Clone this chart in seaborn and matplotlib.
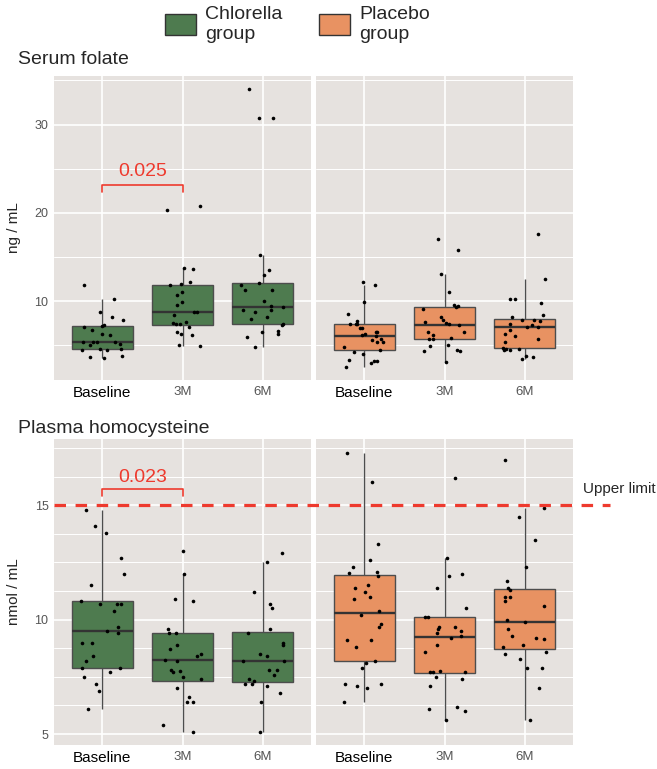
import numpy as np
import pandas as pd
import matplotlib
matplotlib.use("Agg")
import matplotlib.pyplot as plt
import matplotlib.transforms as mtransforms
from matplotlib.lines import Line2D
from matplotlib.patches import Patch
import seaborn as sns

# categories
times = ["Baseline", "3M", "6M"]

# serum folate (ng/mL)
folate_chl_base = [11.8, 10.2, 8.8, 8.2, 7.9, 7.3, 7.2, 7.1, 6.7, 6.3, 6.2, 5.35, 5.4, 5.35,
                   5.3, 5.1, 5.0, 4.6, 4.55, 4.5, 4.4, 3.8, 3.6, 3.5]
folate_chl_3m = [20.8, 20.3, 13.75, 13.6, 12.1, 11.9, 11.8, 11.0, 10.7, 9.9, 9.5, 8.8, 8.75,
                 8.4, 7.6, 7.55, 7.45, 7.4, 7.0, 6.5, 6.3, 6.15, 5.0, 4.9]
folate_chl_6m = [34.0, 30.7, 30.7, 15.2, 13.5, 13.0, 12.0, 11.8, 11.25, 11.2, 10.0, 9.4, 9.35,
                 9.0, 9.0, 8.7, 8.2, 8.0, 7.35, 7.3, 6.65, 6.5, 6.3, 5.95, 4.75]
folate_pla_base = [12.1, 11.85, 9.9, 8.5, 7.7, 7.45, 7.4, 7.4, 6.9, 6.9, 6.5, 6.45, 6.3, 6.15,
                   6.0, 5.75, 5.55, 5.4, 5.3, 4.8, 4.45, 4.25, 4.0, 3.2, 3.2, 3.3, 3.0, 2.55]
folate_pla_3m = [17.0, 15.8, 13.05, 11.0, 9.55, 9.4, 9.35, 9.05, 8.2, 7.8, 7.6, 7.5, 7.35,
                 7.3, 6.5, 6.5, 6.1, 5.85, 5.75, 5.7, 5.0, 4.9, 4.5, 4.3, 4.3, 3.1]
folate_pla_6m = [17.6, 12.5, 10.25, 10.2, 9.75, 8.4, 8.2, 7.8, 7.8, 7.7, 7.4, 7.3, 7.1, 7.0,
                 6.7, 6.25, 6.0, 5.75, 5.4, 4.65, 4.55, 4.6, 4.5, 4.4, 3.75, 3.6, 3.45]

# plasma homocysteine (nmol/mL)
hcy_chl_base = [14.8, 14.1, 13.8, 12.7, 12.0, 11.5, 10.8, 10.7, 10.7, 10.7, 10.4, 9.7, 9.5,
                9.4, 9.0, 9.0, 8.4, 8.2, 7.9, 7.9, 7.7, 7.5, 7.2, 6.9, 6.1]
hcy_chl_3m = [13.0, 12.0, 10.9, 10.8, 9.6, 9.4, 9.4, 8.9, 8.7, 8.5, 8.4, 8.25, 8.2, 7.8,
              7.75, 7.7, 7.5, 7.4, 7.0, 6.6, 6.4, 6.4, 5.4, 5.1]
hcy_chl_6m = [12.9, 12.5, 11.2, 10.7, 10.5, 9.6, 9.4, 9.0, 8.9, 8.5, 8.4, 8.2, 8.2, 7.8,
              7.8, 7.6, 7.4, 7.3, 7.2, 7.1, 7.2, 6.8, 6.4, 5.1]
hcy_pla_base = [17.3, 16.0, 13.3, 12.6, 12.3, 12.1, 12.05, 11.9, 11.5, 11.4, 11.2, 11.0, 10.9,
                10.4, 10.2, 9.8, 9.7, 9.1, 9.1, 8.8, 8.2, 8.1, 7.9, 7.2, 7.2, 7.0, 7.1, 6.4]
hcy_pla_3m = [16.2, 12.7, 12.0, 11.9, 11.4, 10.5, 10.1, 10.1, 9.7, 9.7, 9.6, 9.5, 9.4, 9.3,
              9.2, 8.9, 8.6, 7.7, 7.7, 7.75, 7.7, 7.5, 7.4, 7.1, 6.2, 6.1, 6.0, 5.6]
hcy_pla_6m = [17.0, 14.9, 14.5, 13.5, 12.3, 11.7, 11.4, 11.3, 11.0, 11.0, 10.8, 10.6, 10.0,
              9.9, 9.6, 9.3, 9.2, 9.15, 8.9, 8.8, 8.6, 8.5, 8.3, 7.9, 7.9, 7.0, 5.6]

GREEN = "#4e7b4f"
ORANGE = "#e89262"
BG = "#e6e2df"
RED = "#ee3a2e"
GREY_TXT = "#555555"

sns.set_theme(style="white")
plt.rcParams["font.family"] = ["Liberation Sans", "DejaVu Sans"]
np.random.seed(7)


def long_form(base, m3, m6):
    return pd.DataFrame({
        "time": ["Baseline"] * len(base) + ["3M"] * len(m3) + ["6M"] * len(m6),
        "value": base + m3 + m6,
    })


def draw_panel(ax, df, color, ylim, major, minor, show_y):
    ax.set_facecolor(BG)
    ax.set_axisbelow(True)
    sns.boxplot(data=df, x="time", y="value", order=times, color=color, saturation=1,
                width=0.76, showfliers=False, showcaps=False, linecolor="#4d4d4d",
                linewidth=1.0, medianprops={"color": "#333333", "linewidth": 1.7}, ax=ax)
    sns.stripplot(data=df, x="time", y="value", order=times, color="black", size=2.6,
                  jitter=0.27, ax=ax)
    ax.set_xlim(-0.6, 2.6)
    ax.set_ylim(*ylim)
    ax.set_yticks(major)
    ax.set_yticks(minor, minor=True)
    ax.grid(which="major", axis="y", color="white", lw=1.2)
    ax.grid(which="minor", axis="y", color="white", lw=0.7)
    ax.grid(which="major", axis="x", color="white", lw=1.2)
    for s in ax.spines.values():
        s.set_visible(False)
    ax.tick_params(axis="both", which="both", length=0, pad=4)
    ax.tick_params(axis="y", labelsize=9, labelcolor=GREY_TXT)
    ax.set_xlabel("")
    ax.set_ylabel("")
    ax.set_xticks(range(3))
    ax.set_xticklabels(times)
    for lab in ax.get_xticklabels():
        if lab.get_text() == "Baseline":
            lab.set_fontsize(11)
            lab.set_color("black")
        else:
            lab.set_fontsize(9.5)
            lab.set_color(GREY_TXT)
    if not show_y:
        ax.set_yticklabels([])


def bracket(ax, x0, x1, y_low, y_top, label, text_y):
    ax.plot([x0, x0, x1, x1], [y_low, y_top, y_top, y_low], color=RED, lw=1.2)
    ax.text((x0 + x1) / 2, text_y, label, color=RED, fontsize=14, ha="center", va="center")


W, H = 657, 769
fig = plt.figure(figsize=(W / 100, H / 100), dpi=100)

ax_tl = fig.add_axes([54 / W, 1 - 380 / H, 257 / W, 304 / H])
ax_tr = fig.add_axes([316 / W, 1 - 380 / H, 257 / W, 304 / H])
ax_bl = fig.add_axes([54 / W, 1 - 745 / H, 257 / W, 306 / H])
ax_br = fig.add_axes([316 / W, 1 - 745 / H, 257 / W, 306 / H])

folate_ylim = (1.05, 35.5)
folate_major = [10, 20, 30]
folate_minor = [5, 15, 25, 35]
hcy_ylim = (4.52, 17.9)
hcy_major = [5, 10, 15]
hcy_minor = [6.25, 7.5, 8.75, 11.25, 12.5, 13.75, 16.25, 17.5]

draw_panel(ax_tl, long_form(folate_chl_base, folate_chl_3m, folate_chl_6m), GREEN,
           folate_ylim, folate_major, folate_minor, True)
draw_panel(ax_tr, long_form(folate_pla_base, folate_pla_3m, folate_pla_6m), ORANGE,
           folate_ylim, folate_major, folate_minor, False)
draw_panel(ax_bl, long_form(hcy_chl_base, hcy_chl_3m, hcy_chl_6m), GREEN,
           hcy_ylim, hcy_major, hcy_minor, True)
draw_panel(ax_br, long_form(hcy_pla_base, hcy_pla_3m, hcy_pla_6m), ORANGE,
           hcy_ylim, hcy_major, hcy_minor, False)

ax_tl.set_ylabel("ng / mL", fontsize=11, labelpad=10)
ax_bl.set_ylabel("nmol / mL", fontsize=11, labelpad=10)

bracket(ax_tl, 0, 1, 22.3, 23.2, "0.025", 24.7)
bracket(ax_bl, 0, 1, 15.39, 15.72, "0.023", 16.23)

# upper limit line across both homocysteine panels
trans = mtransforms.blended_transform_factory(fig.transFigure, ax_bl.transData)
fig.add_artist(Line2D([54 / W, 610 / W], [15, 15], transform=trans, color=RED, lw=2.3,
                      dashes=(3.6, 3.0)))
fig.text(583 / W, 15.72, "Upper limit", transform=trans, fontsize=11, ha="left",
         va="center")

fig.text(18 / W, 1 - 60 / H, "Serum folate", fontsize=14, ha="left", va="center")
fig.text(18 / W, 1 - 429 / H, "Plasma homocysteine", fontsize=14, ha="left", va="center")

handles = [Patch(facecolor=GREEN, edgecolor="#333333", lw=1, label="Chlorella\ngroup"),
           Patch(facecolor=ORANGE, edgecolor="#333333", lw=1, label="Placebo\ngroup")]
fig.legend(handles=handles, loc="upper left", bbox_to_anchor=(165 / W, 1 - 6 / H), ncol=2,
           frameon=False, fontsize=14, handlelength=1.6, handleheight=1.25,
           handletextpad=0.45, columnspacing=1.9, borderpad=0, borderaxespad=0)

fig.savefig("out.png", dpi=100, facecolor="white")
